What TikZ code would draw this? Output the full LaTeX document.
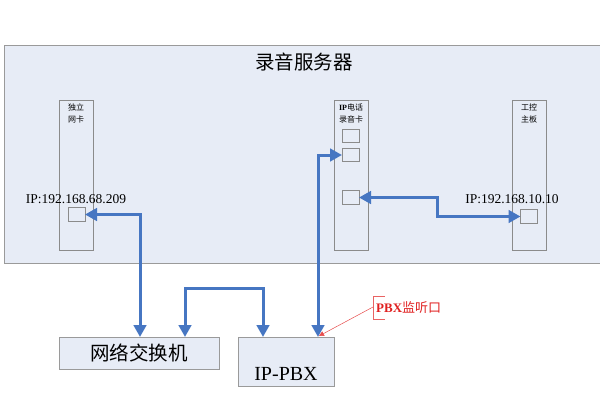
\documentclass[tikz,border=0pt]{standalone}
\usepackage{fontspec}
\setmainfont{Liberation Serif}
\newfontfamily\cjk{Noto Sans CJK SC}
\usetikzlibrary{arrows.meta}
\definecolor{bgfill}{HTML}{E7ECF6}
\definecolor{edge}{HTML}{9A9A9A}
\definecolor{arrblue}{HTML}{4676C2}
\definecolor{annred}{HTML}{E02020}
\tikzset{
  box/.style={draw=edge, fill=bgfill, line width=0.8pt, inner sep=0pt, outer sep=0pt, anchor=north west},
  card/.style={draw=edge!90!black, line width=0.7pt, inner sep=0pt, outer sep=0pt, anchor=north west, minimum width=34pt, minimum height=150pt},
  port/.style={draw=edge!90!black, fill=bgfill, line width=0.6pt, inner sep=0pt, outer sep=0pt, minimum width=17pt, minimum height=13.5pt},
  cardtext/.style={font=\fontsize{8}{12}\selectfont, align=center, anchor=north, inner sep=0pt},
  iplabel/.style={font=\fontsize{13.5}{14}\selectfont, inner sep=0pt},
  conn/.style={draw=arrblue, line width=3pt, {Triangle[length=12pt,width=12.5pt]}-{Triangle[length=12pt,width=12.5pt]}},
}
\begin{document}
\begin{tikzpicture}[x=1pt,y=-1pt]
\useasboundingbox (0,0) rectangle (600,400);
% server
\node[box, minimum width=600pt, minimum height=218pt] (server) at (4,45) {};
\node[font=\cjk\fontsize{19.5}{20}\selectfont, inner sep=0pt] (title) at (304,62) {录音服务器};
% cards
\node[card] (nic) at (59,100) {};
\node[card] (rec) at (334,100) {};
\node[card] (ipc) at (512,100) {};
\node[cardtext] (nict) at (76,104) {\cjk 独立\\\cjk 网卡};
\node[cardtext] (rect) at (351,104) {{\bfseries IP}{\cjk 电话}\\\cjk 录音卡};
\node[cardtext] (ipct) at (529,104) {\cjk 工控\\\cjk 主板};
% ports
\node[port] (p1) at (76.5,214.5) {};
\node[port] (p4) at (350.5,136) {};
\node[port] (p5) at (350.5,155) {};
\node[port] (p6) at (350.5,197.5) {};
\node[port] (p7) at (529,216.5) {};
\node[iplabel] (ip1) at (76,199) {IP:192.168.68.209};
\node[iplabel] (ip2) at (512,199) {IP:192.168.10.10};
% lower boxes
\node[box, minimum width=160pt, minimum height=32pt] (sw) at (59,337) {};
\node[font=\cjk\fontsize{19.5}{20}\selectfont, inner sep=0pt] (swt) at (139,353) {网络交换机};
\node[box, minimum width=96pt, minimum height=49pt] (pbx) at (238,337) {};
\node[font=\fontsize{20}{20}\selectfont, inner sep=0pt] (pbxt) at (286,374) {IP-PBX};
% connector end points
\coordinate (swA) at (140,337);
\coordinate (swB) at (185,337);
\coordinate (pbxA) at (263,337);
\coordinate (pbxB) at (318,337);
\coordinate (pbxC) at (319,336);
% connectors
\draw[conn] (p1.east) -| (swA);
\draw[conn] (swB) -- ++(0,-49) -| (pbxA);
\draw[conn] (p5.west) -| (pbxB);
\draw[conn] (p6.east) -- ++(78,0) |- (p7.west);
% annotation
\node[font=\fontsize{13}{14}\selectfont, text=annred, anchor=west, inner sep=0pt] (ann) at (376,308) {{\bfseries PBX}{\cjk 监听口}};
\draw[annred!70, line width=0.5pt] (385,296) -- (373,296) -- (373,319) -- (385,319);
\coordinate (annA) at (373,307);
\draw[annred!80, line width=0.5pt, -{Triangle[length=5pt,width=5pt]}] (annA) -- (pbxC);
\end{tikzpicture}
\end{document}
